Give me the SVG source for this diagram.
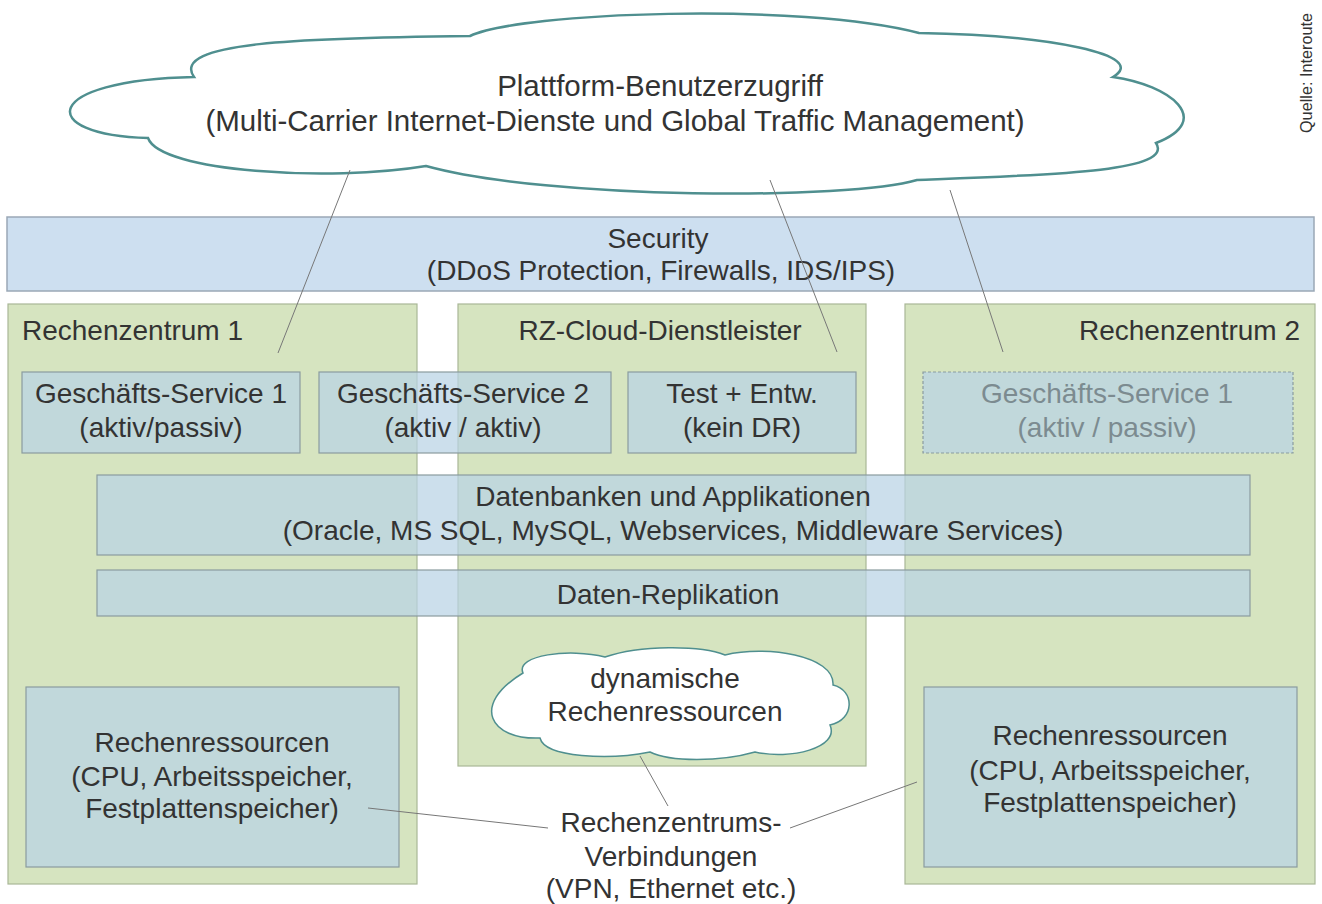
<svg xmlns="http://www.w3.org/2000/svg" width="1322" height="904" viewBox="0 0 1322 904">
<style>
text{font-family:"Liberation Sans",Arial,sans-serif;fill:#333;font-size:28px}
.c{text-anchor:middle}
.green{fill:#d6e4c0;stroke:#a9b797;stroke-width:1.2}
.blue{fill:#b9d3e4;fill-opacity:0.72;stroke:#8a9c9f;stroke-width:1.2}
.sec{fill:#cddff0;stroke:#9aa8b6;stroke-width:1.5}
.cloud{fill:#fff;stroke:#4f8f8f}
.conn{stroke:#777;stroke-width:1;fill:none}
.dim{fill:#7c8b90}
</style>
<rect width="1322" height="904" fill="#fff"/>
<g id="cloud-top">
<path class="cloud" stroke-width="2.5" d="M 194,77 C 170,42 300,38 470,36 C 520,12 800,2 919,33 C 1050,35 1150,55 1113,77 C 1170,85 1215,120 1156,143 C 1175,172 1050,175 917,180 C 850,200 550,200 426,166 C 330,182 160,172 148,138 C 35,135 40,80 194,77 Z"/>
<text class="c" x="660" y="96" style="font-size:29.5px">Plattform-Benutzerzugriff</text>
<text class="c" x="615" y="131" style="font-size:29.5px">(Multi-Carrier Internet-Dienste und Global Traffic Management)</text>
</g>
<g id="security">
<rect class="sec" x="7" y="217" width="1307" height="74"/>
<text class="c" x="658" y="248">Security</text>
<text class="c" x="661" y="280">(DDoS Protection, Firewalls, IDS/IPS)</text>
</g>
<g id="rz1">
<rect class="green" x="8" y="304" width="409" height="580"/>
<text x="22" y="340">Rechenzentrum 1</text>
</g>
<g id="rzcloud">
<rect class="green" x="458" y="304" width="408" height="462"/>
<text class="c" x="660" y="340">RZ-Cloud-Dienstleister</text>
</g>
<g id="rz2">
<rect class="green" x="905" y="304" width="410" height="580"/>
<text x="1300" y="340" text-anchor="end">Rechenzentrum 2</text>
</g>
<g id="gs1">
<rect class="blue" x="22" y="372" width="278" height="81"/>
<text class="c" x="161" y="403">Geschäfts-Service 1</text>
<text class="c" x="161" y="437">(aktiv/passiv)</text>
</g>
<g id="gs2">
<rect class="blue" x="319" y="372" width="292" height="81"/>
<text class="c" x="463" y="403">Geschäfts-Service 2</text>
<text class="c" x="463" y="437">(aktiv / aktiv)</text>
</g>
<g id="test">
<rect class="blue" x="628" y="372" width="228" height="81"/>
<text class="c" x="742" y="403">Test + Entw.</text>
<text class="c" x="742" y="437">(kein DR)</text>
</g>
<g id="gs1-rz2">
<rect class="blue" x="923" y="372" width="370" height="81" stroke-dasharray="3,2"/>
<text class="c dim" x="1107" y="403">Geschäfts-Service 1</text>
<text class="c dim" x="1107" y="437">(aktiv / passiv)</text>
</g>
<g id="datenbanken">
<rect class="blue" x="97" y="475" width="1153" height="80"/>
<text class="c" x="673" y="506">Datenbanken und Applikationen</text>
<text class="c" x="673" y="540">(Oracle, MS SQL, MySQL, Webservices, Middleware Services)</text>
</g>
<g id="replikation">
<rect class="blue" x="97" y="570" width="1153" height="46"/>
<text class="c" x="668" y="604">Daten-Replikation</text>
</g>
<g id="cloud-dyn">
<path class="cloud" stroke-width="1.5" d="M 523,673 C 515,655 570,648 605,657 C 640,645 700,645 725,655 C 765,645 835,655 833,685 C 855,690 855,720 830,725 C 840,748 790,760 755,752 C 720,762 670,762 650,752 C 610,760 545,758 540,738 C 490,740 470,705 523,673 Z"/>
<text class="c" x="665" y="688">dynamische</text>
<text class="c" x="665" y="721">Rechenressourcen</text>
</g>
<g id="res1">
<rect class="blue" x="26" y="687" width="373" height="180"/>
<text class="c" x="212" y="752">Rechenressourcen</text>
<text class="c" x="212" y="786">(CPU, Arbeitsspeicher,</text>
<text class="c" x="212" y="818">Festplattenspeicher)</text>
</g>
<g id="res2">
<rect class="blue" x="924" y="687" width="373" height="180"/>
<text class="c" x="1110" y="745">Rechenressourcen</text>
<text class="c" x="1110" y="780">(CPU, Arbeitsspeicher,</text>
<text class="c" x="1110" y="812">Festplattenspeicher)</text>
</g>
<g id="verbindungen">
<text class="c" x="671" y="832">Rechenzentrums-</text>
<text class="c" x="671" y="866">Verbindungen</text>
<text class="c" x="671" y="898">(VPN, Ethernet etc.)</text>
</g>
<g id="connectors">
<line class="conn" x1="350" y1="170" x2="278" y2="353"/>
<line class="conn" x1="770" y1="180" x2="837" y2="352"/>
<line class="conn" x1="950" y1="190" x2="1003" y2="352"/>
<line class="conn" x1="640" y1="756" x2="668" y2="806"/>
<line class="conn" x1="368" y1="808" x2="548" y2="828"/>
<line class="conn" x1="790" y1="828" x2="917" y2="782"/>
</g>
<g id="source">
<text transform="translate(1312,133) rotate(-90)" style="font-size:17px" textLength="120" lengthAdjust="spacingAndGlyphs">Quelle: Interoute</text>
</g>
</svg>
